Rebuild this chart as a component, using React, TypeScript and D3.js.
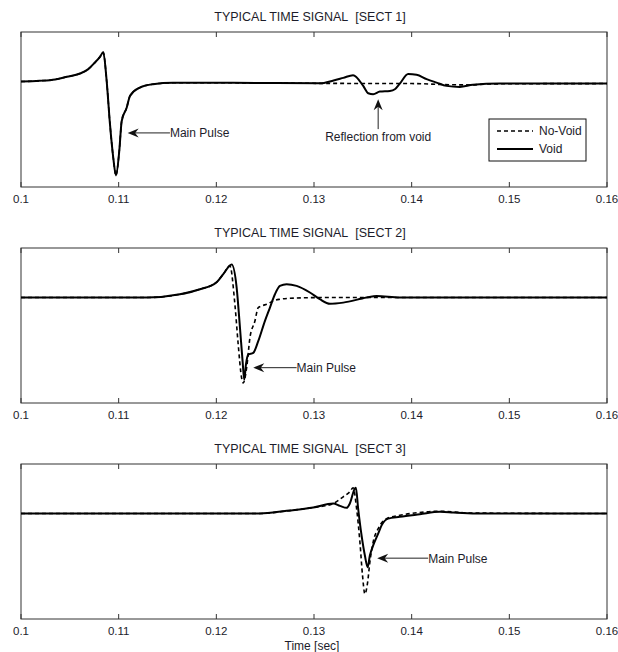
import React from 'react';
import * as d3 from 'd3';

// time axis ticks and panel titles
const timeTicks = [0.1, 0.11, 0.12, 0.13, 0.14, 0.15, 0.16];
const tickLabels = ['0.1', '0.11', '0.12', '0.13', '0.14', '0.15', '0.16'];
const titles = [
    'TYPICAL TIME SIGNAL  [SECT 1]',
    'TYPICAL TIME SIGNAL  [SECT 2]',
    'TYPICAL TIME SIGNAL  [SECT 3]',
];
const seriesNames = ['No-Void', 'Void'];

// [time (sec), amplitude]
const sect1Void: [number, number][] = [
    [0.1, 0], [0.1019, 0.007], [0.1035, 0.02], [0.1047, 0.045], [0.10604, 0.076],
    [0.10689, 0.118], [0.10757, 0.181], [0.10809, 0.235], [0.10842, 0.277],
    [0.10877, 0.007], [0.10911, -0.404],
    [0.10945, -0.725], [0.10972, -0.89], [0.11006, -0.661], [0.11031, -0.375],
    [0.11082, -0.248], [0.11116, -0.136], [0.11218, -0.057], [0.11351, -0.025],
    [0.11556, -0.012], [0.1217, -0.012], [0.1306, -0.017], [0.132, 0.01],
    [0.133, 0.035], [0.134, 0.06], [0.13504, -0.041], [0.13555, -0.111],
    [0.13606, -0.12], [0.13675, -0.095], [0.13777, -0.089], [0.13828, -0.073],
    [0.13879, -0.019], [0.13964, 0.071], [0.1405, 0.064], [0.14153, 0.023],
    [0.14255, -0.01], [0.14357, -0.041], [0.14493, -0.051], [0.14627, -0.031],
    [0.14903, -0.019], [0.16, -0.019],
];
const sect1NoVoid: [number, number][] = [
    [0.1, 0], [0.1019, 0.007], [0.1035, 0.02], [0.1047, 0.045], [0.10604, 0.076],
    [0.10689, 0.118], [0.10757, 0.181], [0.10809, 0.235], [0.10842, 0.277],
    [0.10877, 0.007], [0.10911, -0.404],
    [0.10945, -0.725], [0.10972, -0.89], [0.11006, -0.661], [0.11031, -0.375],
    [0.11082, -0.248], [0.11116, -0.136], [0.11218, -0.057], [0.11351, -0.025],
    [0.11556, -0.012], [0.1217, -0.012], [0.1306, -0.017], [0.14, -0.019],
    [0.144, -0.03], [0.146, -0.032], [0.148, -0.022], [0.16, -0.019],
];

const sect2Void: [number, number][] = [
    [0.1, 0], [0.11287, 0], [0.11627, 0.031], [0.11832, 0.079], [0.12, 0.143],
    [0.12071, 0.222], [0.12157, 0.313], [0.12208, 0.095], [0.12242, -0.286],
    [0.12269, -0.605], [0.12286, -0.78], [0.12303, -0.636], [0.12327, -0.541],
    [0.12378, -0.525], [0.12429, -0.414], [0.12497, -0.223], [0.12549, -0.095],
    [0.126, 0.031], [0.12651, 0.111], [0.1272, 0.127], [0.12822, 0.111],
    [0.12958, 0.048], [0.1306, -0.016], [0.13163, -0.059], [0.13299, -0.048],
    [0.13538, 0], [0.1364, 0.015], [0.13879, 0], [0.16, 0],
];
const sect2NoVoid: [number, number][] = [
    [0.1, 0], [0.11287, 0], [0.11627, 0.031], [0.11832, 0.079], [0.12, 0.143],
    [0.12071, 0.222], [0.12139, 0.299], [0.1219, -0.064], [0.12224, -0.446],
    [0.12259, -0.763], [0.12275, -0.811], [0.1231, -0.668], [0.12344, -0.382],
    [0.12395, -0.223], [0.12429, -0.095], [0.12464, -0.08], [0.12531, -0.057],
    [0.12582, -0.032], [0.12651, -0.016], [0.12753, -0.007], [0.13094, 0], [0.16, 0],
];

const sect3Void: [number, number][] = [
    [0.1, 0], [0.12446, 0], [0.1272, 0.026], [0.12992, 0.057], [0.13197, 0.095],
    [0.13265, 0.073], [0.13334, 0.054], [0.13367, 0.095], [0.13419, 0.239],
    [0.13429, 0.245], [0.13452, 0.048], [0.13487, -0.207], [0.13521, -0.398],
    [0.13549, -0.509], [0.13572, -0.398], [0.13606, -0.302], [0.13657, -0.191],
    [0.13692, -0.112], [0.13759, -0.048], [0.13879, -0.031], [0.14084, -0.007],
    [0.14289, 0.016], [0.14425, 0.011], [0.14698, 0], [0.16, 0],
];
const sect3NoVoid: [number, number][] = [
    [0.1, 0], [0.12446, 0], [0.1272, 0.026], [0.12992, 0.057], [0.13197, 0.095],
    [0.13299, 0.159], [0.13367, 0.207], [0.13401, 0.245], [0.13436, 0.048],
    [0.1347, -0.27], [0.13497, -0.589], [0.13521, -0.763], [0.13549, -0.652],
    [0.13572, -0.461], [0.13606, -0.27], [0.13657, -0.143], [0.13743, -0.048],
    [0.13879, -0.016], [0.1405, 0.007], [0.14289, 0.022], [0.14596, 0.005], [0.16, 0],
];

// annotation arrows: head and tail in data coords
const annotations = [
    [{ text: 'Main Pulse', head: [0.11092, -0.487], tail: [0.11525, -0.487], dir: 'h' },
     { text: 'Reflection from void', head: [0.13657, -0.168], tail: [0.13657, -0.451], dir: 'v' }],
    [{ text: 'Main Pulse', head: [0.12378, -0.665], tail: [0.12822, -0.665], dir: 'h' }],
    [{ text: 'Main Pulse', head: [0.13647, -0.423], tail: [0.14169, -0.423], dir: 'h' }],
];

const panels = [
    { voidData: sect1Void, noVoidData: sect1NoVoid },
    { voidData: sect2Void, noVoidData: sect2NoVoid },
    { voidData: sect3Void, noVoidData: sect3NoVoid },
];

const W = 618;
const H = 652;
const left = 21;
const right = 607;
const tops = [32, 248, 464];
const boxH = 155;
const font = 'Arial, "Liberation Sans", sans-serif';
const ink = '#1c1c2a';

function Arrow({ x1, y1, x2, y2 }: { x1: number; y1: number; x2: number; y2: number }) {
    // tail (x1,y1) -> head (x2,y2), notched head like matlab annotations
    const ang = Math.atan2(y2 - y1, x2 - x1);
    const len = 11;
    const half = 4.5;
    const back = 3.5;
    const ux = Math.cos(ang);
    const uy = Math.sin(ang);
    const bx = x2 - ux * len;
    const by = y2 - uy * len;
    const p = [
        [x2, y2],
        [bx - uy * half, by + ux * half],
        [x2 - ux * (len - back), y2 - uy * (len - back)],
        [bx + uy * half, by - ux * half],
    ];
    return (
        <g>
            <line x1={x1} y1={y1} x2={x2 - ux * 4} y2={y2 - uy * 4} stroke="#222" strokeWidth={1} />
            <polygon points={p.map(d => d.join(',')).join(' ')} fill="#111" />
        </g>
    );
}

function Panel({ index }: { index: number }) {
    const top = tops[index];
    const bottom = top + boxH;
    const x = d3.scaleLinear().domain([0.1, 0.16]).range([left, right]);
    const y = d3.scaleLinear().domain([-1, 0.47]).range([bottom, top]);
    const line = d3.line<[number, number]>()
        .x(d => x(d[0]))
        .y(d => y(d[1]))
        .curve(d3.curveMonotoneX);
    const { voidData, noVoidData } = panels[index];

    return (
        <g>
            <text x={310} y={top - 11} textAnchor="middle" fontSize={12.5} fontFamily={font} fill={ink}>
                {titles[index].replace('  ', '\u00a0\u00a0')}
            </text>
            <rect x={left} y={top} width={right - left} height={boxH} fill="white" stroke="#333" strokeWidth={1} />
            {timeTicks.map((t, i) => (
                <g key={t}>
                    <line x1={x(t)} x2={x(t)} y1={bottom} y2={bottom - 5} stroke="#333" />
                    <line x1={x(t)} x2={x(t)} y1={top} y2={top + 5} stroke="#333" />
                    <text x={x(t)} y={bottom + 16} textAnchor="middle" fontSize={11.5} fontFamily={font} fill={ink}>
                        {tickLabels[i]}
                    </text>
                </g>
            ))}
            <path d={line(noVoidData) || ''} fill="none" stroke="#000" strokeWidth={1.6} strokeDasharray="4,3" />
            <path d={line(voidData) || ''} fill="none" stroke="#000" strokeWidth={2} strokeLinejoin="round" />
            {annotations[index].map((a, i) => {
                const hx = x(a.head[0]);
                const hy = y(a.head[1]);
                const tx = x(a.tail[0]);
                const ty = y(a.tail[1]);
                return (
                    <g key={i}>
                        <Arrow x1={tx} y1={ty} x2={hx} y2={hy} />
                        {a.dir === 'h' ? (
                            <text x={tx} y={ty + 4.5} fontSize={12} fontFamily={font} fill={ink}>{a.text}</text>
                        ) : (
                            <text x={tx} y={ty + 12} textAnchor="middle" fontSize={12} fontFamily={font} fill={ink}>{a.text}</text>
                        )}
                    </g>
                );
            })}
        </g>
    );
}

function Legend() {
    const lx = 489;
    const ly = 119;
    return (
        <g>
            <rect x={lx} y={ly} width={97} height={42} fill="white" stroke="#111" strokeWidth={1} />
            <line x1={lx + 8} x2={lx + 44} y1={ly + 12} y2={ly + 12} stroke="#000" strokeWidth={1.6} strokeDasharray="4,3" />
            <line x1={lx + 8} x2={lx + 44} y1={ly + 30} y2={ly + 30} stroke="#000" strokeWidth={2} />
            <text x={lx + 50} y={ly + 16} fontSize={12} fontFamily={font} fill={ink}>{seriesNames[0]}</text>
            <text x={lx + 50} y={ly + 34} fontSize={12} fontFamily={font} fill={ink}>{seriesNames[1]}</text>
        </g>
    );
}

export default function App() {
    return (
        <svg width={W} height={H} style={{ position: 'absolute', left: 0, top: 0, background: 'white' }}>
            <rect width={W} height={H} fill="white" />
            {[0, 1, 2].map(i => <Panel key={i} index={i} />)}
            <Legend />
            <text x={312} y={650} textAnchor="middle" fontSize={12} fontFamily={font} fill={ink}>Time [sec]</text>
        </svg>
    );
}
